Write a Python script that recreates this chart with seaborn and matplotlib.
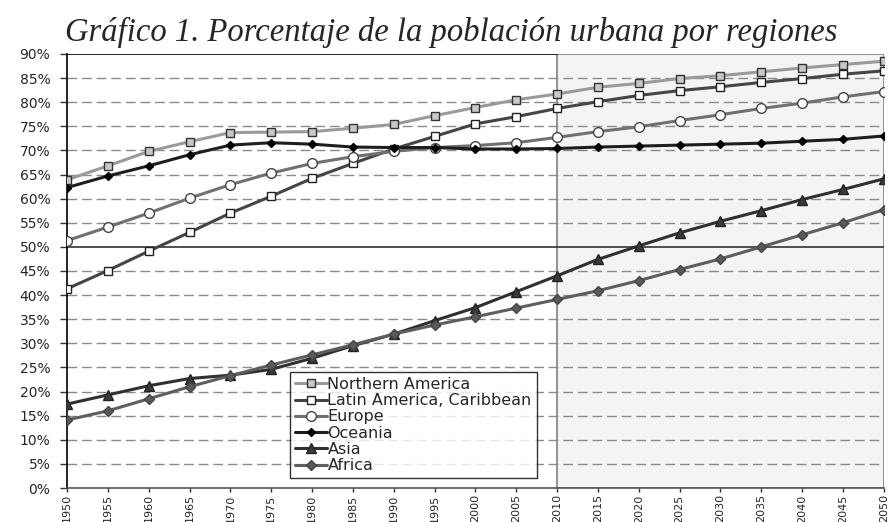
import numpy as np
import pandas as pd
import matplotlib
matplotlib.use("Agg")
import matplotlib.pyplot as plt
import seaborn as sns

years = list(range(1950, 2051, 5))

northern_america = [63.9, 66.8, 69.8, 71.8, 73.7, 73.8, 73.9, 74.6, 75.4, 77.2, 78.9,
                    80.5, 81.7, 83.1, 83.9, 84.9, 85.5, 86.3, 87.1, 87.8, 88.5]
latin_america = [41.3, 45.1, 49.1, 53.0, 57.0, 60.5, 64.2, 67.3, 70.3, 72.9, 75.5,
                 77.0, 78.7, 80.1, 81.4, 82.4, 83.2, 84.1, 84.9, 85.8, 86.5]
europe = [51.3, 54.1, 57.0, 60.1, 62.9, 65.3, 67.3, 68.7, 69.8, 70.6, 71.0,
          71.6, 72.7, 73.9, 74.9, 76.2, 77.4, 78.7, 79.8, 81.1, 82.2]
oceania = [62.3, 64.7, 66.8, 69.1, 71.1, 71.6, 71.3, 70.7, 70.6, 70.6, 70.3,
           70.3, 70.4, 70.7, 70.9, 71.1, 71.3, 71.5, 71.9, 72.3, 73.0]
asia = [17.4, 19.3, 21.2, 22.7, 23.4, 24.6, 26.9, 29.5, 31.9, 34.7, 37.4,
        40.7, 44.0, 47.4, 50.2, 52.9, 55.3, 57.5, 59.8, 61.9, 64.1]
africa = [14.1, 16.0, 18.5, 21.0, 23.3, 25.5, 27.6, 29.7, 31.9, 33.8, 35.5,
          37.3, 39.1, 40.9, 43.0, 45.3, 47.5, 50.0, 52.5, 55.0, 57.7]

series = {
    "Northern America": northern_america,
    "Latin America, Caribbean": latin_america,
    "Europe": europe,
    "Oceania": oceania,
    "Asia": asia,
    "Africa": africa,
}

# line colour, marker, marker face, marker edge, marker size
styles = {
    "Northern America": ("#9a9a9a", "s", "#c8c8c8", "#333333", 6),
    "Latin America, Caribbean": ("#454545", "s", "white", "#222222", 6),
    "Europe": ("#707070", "o", "white", "#444444", 7),
    "Oceania": ("#1e1e1e", "D", "black", "black", 4.5),
    "Asia": ("#303030", "^", "#3a3a3a", "#222222", 7.5),
    "Africa": ("#5e5e5e", "D", "#5a5a5a", "#444444", 5.5),
}

sns.set_style("white")
plt.rcParams["font.family"] = ["DejaVu Sans"]

fig = plt.figure(figsize=(8.91, 5.22), dpi=100)
ax = fig.add_axes([0.0752, 0.0651, 0.9166, 0.8315])

# projection period
ax.axvspan(2010, 2050, facecolor="#f4f4f4", edgecolor="#808080", linewidth=1.2, zorder=0)

for v in range(5, 90, 5):
    if v == 50:
        continue
    ax.axhline(v, color="#8a8a8a", linewidth=1.0, linestyle=(0, (7, 3.5)), zorder=1)
ax.axhline(50, color="#333333", linewidth=1.2, zorder=2)
ax.axhline(90, xmin=0, xmax=0.6, color="black", linewidth=1.2, zorder=2)

for name, vals in series.items():
    lc, mk, fc, ec, ms = styles[name]
    sns.lineplot(x=years, y=vals, ax=ax, color=lc, linewidth=2.2, marker=mk,
                 markersize=ms, markerfacecolor=fc, markeredgecolor=ec,
                 markeredgewidth=1.0, label=name, zorder=3)

ax.set_xlim(1950, 2050)
ax.set_ylim(0, 90)
ax.set_xticks(years)
ax.set_xticklabels([str(y) for y in years], rotation=90, fontsize=8)
ax.set_yticks(range(0, 91, 5))
ax.set_yticklabels([f"{v}%" for v in range(0, 91, 5)], fontsize=10)
ax.tick_params(axis="x", direction="out", length=3, width=1, color="#333333", pad=1.5,
               bottom=True)
ax.tick_params(axis="y", direction="out", length=5, width=1, color="#333333", pad=7,
               left=True)

for s in ["top", "right"]:
    ax.spines[s].set_visible(False)
ax.spines["left"].set_color("black")
ax.spines["left"].set_linewidth(1.2)
ax.spines["bottom"].set_color("#555555")
ax.spines["bottom"].set_linewidth(1.2)

ax.set_xlabel("")
ax.set_ylabel("")

leg = ax.legend(loc="upper left", bbox_to_anchor=(0.273, 0.267), borderaxespad=0,
                fontsize=11.5, frameon=True, fancybox=False, handlelength=2.0,
                handletextpad=0.05, labelspacing=0.08, borderpad=0.3)
leg.get_frame().set_edgecolor("black")
leg.get_frame().set_linewidth(1.0)
leg.set_zorder(5)

fig.text(0.507, 0.937, "Gráfico 1. Porcentaje de la población urbana por regiones",
         ha="center", va="center", fontsize=23.5, style="italic",
         family=["Liberation Serif", "DejaVu Serif"])

fig.savefig("out.png", dpi=100)
